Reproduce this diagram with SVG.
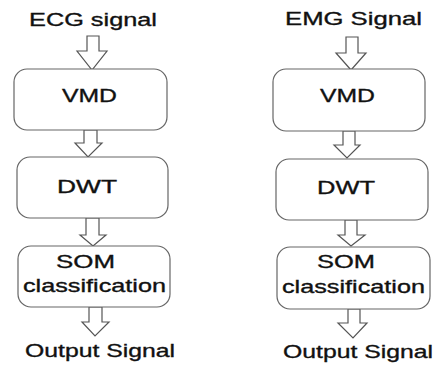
<svg xmlns="http://www.w3.org/2000/svg" width="441" height="365" viewBox="0 0 441 365">
<style>
.box{fill:#fff;stroke:#666;stroke-width:1.2}
.arr{fill:#fff;stroke:#555;stroke-width:1.2;stroke-linejoin:miter}
text{font-family:"Liberation Sans",Arial,sans-serif;font-size:19px;fill:#111;stroke:#111;stroke-width:0.35}
</style>
<rect width="441" height="365" fill="#fff"/>
<g id="connectors">
<path class="arr" d="M87,36 H99 V51 H107 L92,70 L77,51 H87 Z"/>
<path class="arr" d="M84,130 H97 V143 H102 L88,157 L75,143 H84 Z"/>
<path class="arr" d="M86,218 H99 V235 H106 L93,246 L80,235 H86 Z"/>
<path class="arr" d="M89,307 H102 V322 H109 L95,336 L82,322 H89 Z"/>
<path class="arr" d="M346,37 H358 V53 H366 L351,70 L336,53 H346 Z"/>
<path class="arr" d="M343,131 H355 V145 H360 L347,158 L334,145 H343 Z"/>
<path class="arr" d="M345,220 H357 V235 H365 L351,246 L338,235 H345 Z"/>
<path class="arr" d="M348,309 H360 V323 H367 L353,338 L338,323 H348 Z"/>
</g>
<g id="ecg-input"><text x="29" y="26" textLength="128" lengthAdjust="spacingAndGlyphs">ECG signal</text></g>
<g id="ecg-vmd"><rect class="box" x="14" y="69" width="153" height="61" rx="13"/><text x="62" y="102" textLength="55" lengthAdjust="spacingAndGlyphs">VMD</text></g>
<g id="ecg-dwt"><rect class="box" x="17" y="157" width="151" height="61" rx="13"/><text x="57" y="193" textLength="60" lengthAdjust="spacingAndGlyphs">DWT</text></g>
<g id="ecg-som"><rect class="box" x="18" y="246" width="152" height="61" rx="13"/><text x="56" y="268" textLength="59" lengthAdjust="spacingAndGlyphs">SOM</text><text x="23" y="292" textLength="143" lengthAdjust="spacingAndGlyphs">classification</text></g>
<g id="ecg-output"><text x="25" y="357" textLength="150" lengthAdjust="spacingAndGlyphs">Output Signal</text></g>
<g id="emg-input"><text x="285" y="25" textLength="137" lengthAdjust="spacingAndGlyphs">EMG Signal</text></g>
<g id="emg-vmd"><rect class="box" x="273" y="69" width="152" height="62" rx="13"/><text x="320" y="102" textLength="55" lengthAdjust="spacingAndGlyphs">VMD</text></g>
<g id="emg-dwt"><rect class="box" x="276" y="159" width="152" height="61" rx="13"/><text x="317" y="194" textLength="58" lengthAdjust="spacingAndGlyphs">DWT</text></g>
<g id="emg-som"><rect class="box" x="277" y="247" width="153" height="62" rx="13"/><text x="317" y="268" textLength="58" lengthAdjust="spacingAndGlyphs">SOM</text><text x="282" y="293" textLength="143" lengthAdjust="spacingAndGlyphs">classification</text></g>
<g id="emg-output"><text x="283" y="358" textLength="150" lengthAdjust="spacingAndGlyphs">Output Signal</text></g>
</svg>
